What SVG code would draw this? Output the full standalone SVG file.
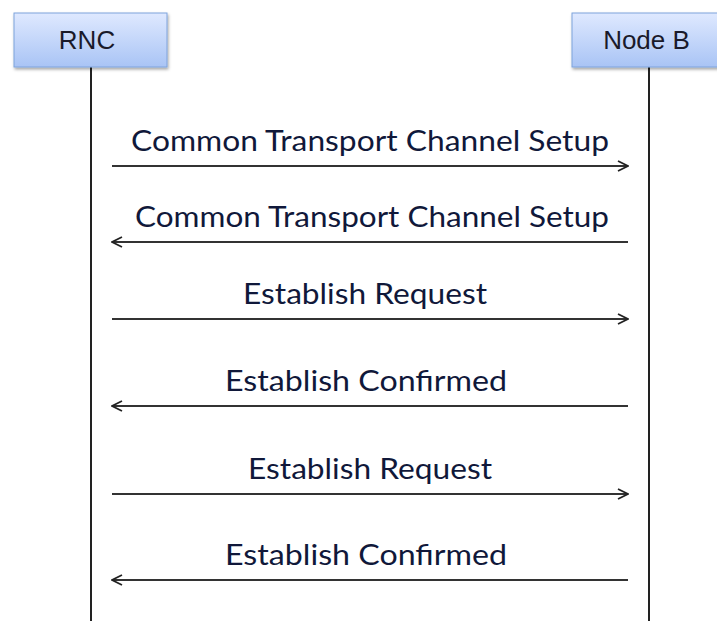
<svg xmlns="http://www.w3.org/2000/svg" width="717" height="621" viewBox="0 0 717 621">
<defs>
<linearGradient id="boxg" x1="0" y1="0" x2="0" y2="1">
<stop offset="0" stop-color="#dfe9ff"/>
<stop offset="1" stop-color="#a9c4f5"/>
</linearGradient>
<filter id="sh" x="-10%" y="-20%" width="130%" height="150%">
<feDropShadow dx="1" dy="2" stdDeviation="1.5" flood-color="#000" flood-opacity="0.35"/>
</filter>
<marker id="ah" viewBox="0 0 12 12" refX="11" refY="6" markerWidth="12" markerHeight="12" markerUnits="userSpaceOnUse" orient="auto-start-reverse">
<path d="M1,1 L11,6 L1,11" fill="none" stroke="#222" stroke-width="1.8"/>
</marker>
<style>
.box{fill:url(#boxg);stroke:#7fa3dc;stroke-width:1;filter:url(#sh)}
.nt{font-family:"Liberation Sans",Arial,sans-serif;font-size:26px;fill:#1a1a2a;text-anchor:middle}
.life{stroke:#222;stroke-width:2}
.msg{stroke:#333;stroke-width:1.8;fill:none}
.lbl{font-family:Lato,"Open Sans",sans-serif;font-size:29px;fill:#10183a;text-anchor:middle}
</style>
</defs>
<g id="lifelines">
<line class="life" x1="91" y1="67" x2="91" y2="621"/>
<line class="life" x1="649" y1="67" x2="649" y2="621"/>
</g>
<g id="RNC">
<rect class="box" x="14" y="13" width="153" height="54"/>
<text class="nt" x="87" y="49">RNC</text>
</g>
<g id="NodeB">
<rect class="box" x="572" y="13" width="152" height="54"/>
<text class="nt" x="646.5" y="49">Node B</text>
</g>
<g id="connectors">
<line class="msg" x1="112" y1="166" x2="628" y2="166" marker-end="url(#ah)"/>
<line class="msg" x1="628" y1="242" x2="112" y2="242" marker-end="url(#ah)"/>
<line class="msg" x1="112" y1="319" x2="628" y2="319" marker-end="url(#ah)"/>
<line class="msg" x1="628" y1="406" x2="112" y2="406" marker-end="url(#ah)"/>
<line class="msg" x1="112" y1="494" x2="628" y2="494" marker-end="url(#ah)"/>
<line class="msg" x1="628" y1="580" x2="112" y2="580" marker-end="url(#ah)"/>
</g>
<g id="labels">
<text class="lbl" x="370" y="151" textLength="478" lengthAdjust="spacingAndGlyphs">Common Transport Channel Setup</text>
<text class="lbl" x="372" y="227" textLength="474" lengthAdjust="spacingAndGlyphs">Common Transport Channel Setup</text>
<text class="lbl" x="365" y="304" textLength="244" lengthAdjust="spacingAndGlyphs">Establish Request</text>
<text class="lbl" x="366" y="391" textLength="282" lengthAdjust="spacingAndGlyphs">Establish Confirmed</text>
<text class="lbl" x="370" y="479" textLength="244" lengthAdjust="spacingAndGlyphs">Establish Request</text>
<text class="lbl" x="366" y="565" textLength="282" lengthAdjust="spacingAndGlyphs">Establish Confirmed</text>
</g>
</svg>
